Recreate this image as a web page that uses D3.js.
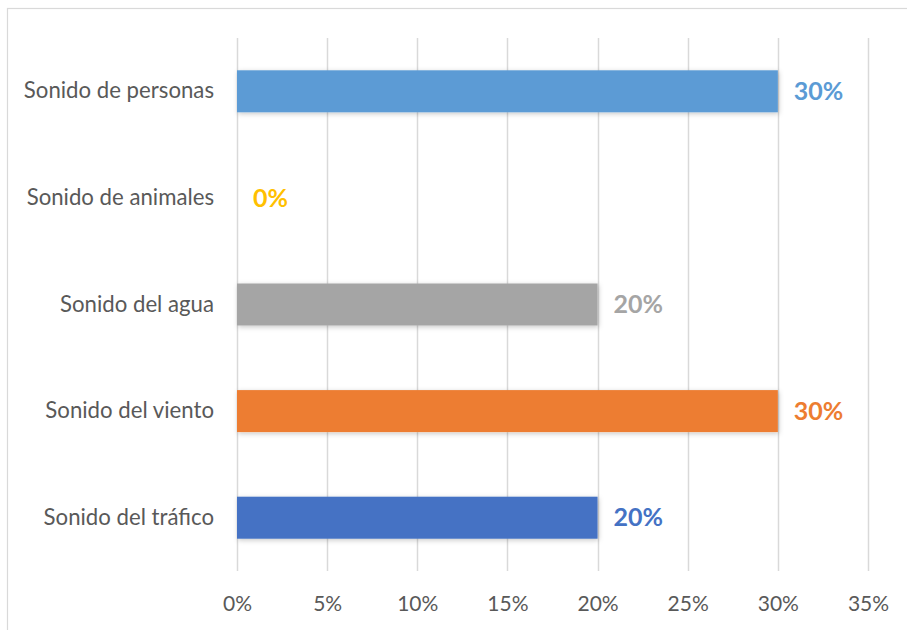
<!DOCTYPE html>
<html>
<head>
<meta charset="utf-8">
<script src="https://cdn.jsdelivr.net/npm/d3@7"></script>
<style>
  html, body { margin: 0; padding: 0; background: #fff; }
  svg { display: block; font-family: Lato, "Open Sans", "DejaVu Sans", sans-serif; }
</style>
</head>
<body>
<svg id="chart" width="907" height="630"></svg>
<script>
// Categories top to bottom, with their shares and bar colours
const categories = ["Sonido de personas", "Sonido de animales", "Sonido del agua", "Sonido del viento", "Sonido del tráfico"];
const values = [0.30, 0.00, 0.20, 0.30, 0.20];
const colors = ["#5B9BD5", "#FFC000", "#A5A5A5", "#ED7D31", "#4472C4"];
const tickValues = [0, 0.05, 0.10, 0.15, 0.20, 0.25, 0.30, 0.35];

const svg = d3.select("#chart");
const W = 907, H = 630;
const plot = { left: 237, right: 868, top: 38, bottom: 571 };

// Chart frame
svg.append("rect")
  .attr("x", 7.5).attr("y", 8.5)
  .attr("width", W + 10).attr("height", H + 10)
  .attr("fill", "none").attr("stroke", "#d9d9d9").attr("stroke-width", 1.2);

const defs = svg.append("defs");
const f = defs.append("filter").attr("id", "shadow")
  .attr("x", "-5%").attr("y", "-30%").attr("width", "110%").attr("height", "160%");
f.append("feDropShadow").attr("dx", 1).attr("dy", 1.5).attr("stdDeviation", 2.5)
  .attr("flood-color", "#000").attr("flood-opacity", 0.22);

const x = d3.scaleLinear().domain([0, 0.35]).range([plot.left, plot.right]);
const y = d3.scaleBand().domain(categories).range([plot.top, plot.bottom]).paddingInner(0.606).paddingOuter(0.303);

// Vertical gridlines
svg.append("g").selectAll("line").data(tickValues).join("line")
  .attr("x1", d => Math.round(x(d)) + 0.5).attr("x2", d => Math.round(x(d)) + 0.5)
  .attr("y1", plot.top).attr("y2", plot.bottom)
  .attr("stroke", "#d9d9d9").attr("stroke-width", 1.5);

// Bottom axis labels
const xAxis = d3.axisBottom(x).tickValues(tickValues).tickFormat(d3.format(".0%")).tickSize(0).tickPadding(0);
const gx = svg.append("g").attr("transform", `translate(0,${plot.bottom})`).call(xAxis);
gx.select(".domain").remove();
gx.selectAll("text")
  .attr("y", 33).attr("dy", "0.35em")
  .attr("fill", "#595959").attr("font-size", 21)
  .attr("font-family", "Lato, 'Open Sans', sans-serif");

// Category labels
const yAxis = d3.axisLeft(y).tickSize(0).tickPadding(23);
const gy = svg.append("g").attr("transform", `translate(${plot.left},0)`).call(yAxis);
gy.select(".domain").remove();
gy.selectAll("text")
  .attr("fill", "#595959").attr("font-size", 22.2)
  .attr("font-family", "Lato, 'Open Sans', sans-serif");

// Bars
svg.append("g").selectAll("rect").data(categories).join("rect")
  .attr("x", x(0))
  .attr("y", d => y(d))
  .attr("width", (d, i) => x(values[i]) - x(0))
  .attr("height", y.bandwidth())
  .attr("fill", (d, i) => colors[i])
  .attr("filter", (d, i) => values[i] > 0 ? "url(#shadow)" : null);

// Value labels
svg.append("g").selectAll("text").data(categories).join("text")
  .attr("x", (d, i) => x(values[i]) + 16)
  .attr("y", d => y(d) + y.bandwidth() / 2)
  .attr("dy", "0.35em")
  .attr("fill", (d, i) => colors[i])
  .attr("font-size", 25).attr("font-weight", "bold")
  .text((d, i) => d3.format(".0%")(values[i]));
</script>
</body>
</html>
